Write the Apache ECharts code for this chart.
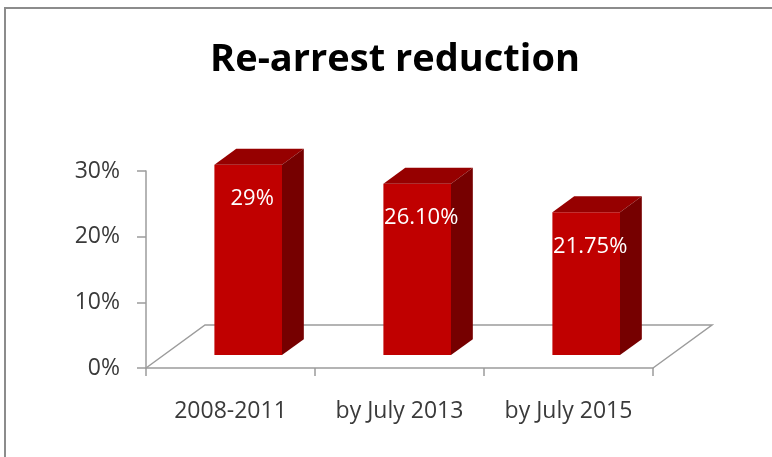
<!DOCTYPE html>
<html>
<head>
<meta charset="utf-8">
<script src="https://cdn.jsdelivr.net/npm/echarts@6/dist/echarts.min.js"></script>
<style>
html,body{margin:0;padding:0;background:#fff;}
#chart{width:772px;height:457px;}
</style>
</head>
<body>
<div id="chart"></div>
<script>
const titleText = 'Re-arrest reduction';
const categories = ['2008-2011', 'by July 2013', 'by July 2015'];
const values = [0.29, 0.261, 0.2175];
const valueLabels = ['29%', '26.10%', '21.75%'];
const yTickLabels = ['0%', '10%', '20%', '30%'];

const FLOOR_DX = 59, FLOOR_DY = -43;
const FRONT = 0.30, BACK = 0.67;
const BAR_FRAC = 0.40;
const AXIS_COLOR = '#9c9c9c';
const TEXT_COLOR = '#3a3a3a';

const chart = echarts.init(document.getElementById('chart'));

function renderFloor(params, api) {
  const cs = params.coordSys;
  const x0 = cs.x, x1 = cs.x + cs.width, y0 = cs.y + cs.height;
  return {
    type: 'polyline',
    shape: { points: [[x0, y0], [x0 + FLOOR_DX, y0 + FLOOR_DY], [x1 + FLOOR_DX, y0 + FLOOR_DY], [x1, y0]] },
    style: { stroke: AXIS_COLOR, lineWidth: 1.5, fill: null }
  };
}

function renderBar(params, api) {
  const i = api.value(0);
  const v = api.value(1);
  const top = api.coord([i, v]);
  const base = api.coord([i, 0]);
  const catW = api.size([1, 0])[0];
  const w = catW * BAR_FRAC;
  const fx = FRONT * FLOOR_DX, fy = FRONT * FLOOR_DY;
  const ddx = (BACK - FRONT) * FLOOR_DX, ddy = (BACK - FRONT) * FLOOR_DY;
  const L = top[0] + fx - w / 2, R = top[0] + fx + w / 2;
  const T = top[1] + fy, B = base[1] + fy;
  return {
    type: 'group',
    children: [
      { type: 'rect', shape: { x: L, y: T, width: w, height: B - T }, style: { fill: '#c00000' } },
      { type: 'polygon', shape: { points: [[L, T], [L + ddx, T + ddy], [R + ddx, T + ddy], [R, T]] }, style: { fill: '#960000' } },
      { type: 'polygon', shape: { points: [[R, T], [R + ddx, T + ddy], [R + ddx, B + ddy], [R, B]] }, style: { fill: '#760000' } },
      { type: 'text', style: { text: valueLabels[params.dataIndex], x: (L + R) / 2 + 4, y: T + 34,
          fill: '#ffffff', font: '22px "Open Sans"', align: 'center', verticalAlign: 'middle' } }
    ]
  };
}

chart.setOption({
  animation: false,
  grid: { left: 146, right: 119, top: 171, bottom: 89 },
  graphic: [
    { type: 'rect', shape: { x: 5, y: 8, width: 800, height: 500 }, style: { fill: null, stroke: '#8c8c8c', lineWidth: 2 }, z: -10 },
    { type: 'text', style: { text: titleText, x: 395, y: 60, font: 'bold 38px "Open Sans"', fill: '#000000', align: 'center', verticalAlign: 'middle' } }
  ],
  xAxis: {
    type: 'category',
    data: categories,
    axisLine: { lineStyle: { color: AXIS_COLOR, width: 1.5 } },
    axisTick: { show: true, interval: 0, length: 8, lineStyle: { color: AXIS_COLOR, width: 1.5 } },
    axisLabel: { interval: 0, hideOverlap: false, color: TEXT_COLOR, fontSize: 23, fontFamily: 'Open Sans', margin: 32 },
    splitLine: { show: false }
  },
  yAxis: {
    type: 'value',
    min: 0, max: 0.3, interval: 0.1,
    axisLine: { show: true, lineStyle: { color: AXIS_COLOR, width: 1.5 } },
    axisTick: { show: true, length: 9, lineStyle: { color: AXIS_COLOR, width: 1.5 } },
    axisLabel: { color: TEXT_COLOR, fontSize: 23, fontFamily: 'Open Sans', margin: 26,
      formatter: function (val) { return yTickLabels[Math.round(val * 10)]; } },
    splitLine: { show: false }
  },
  series: [
    { type: 'custom', renderItem: renderFloor, data: [[0, 0]], clip: false, silent: true, z: 1 },
    { type: 'custom', renderItem: renderBar, data: values.map((v, i) => [i, v]), clip: false, z: 2,
      encode: { x: 0, y: 1 } }
  ]
});
</script>
</body>
</html>
